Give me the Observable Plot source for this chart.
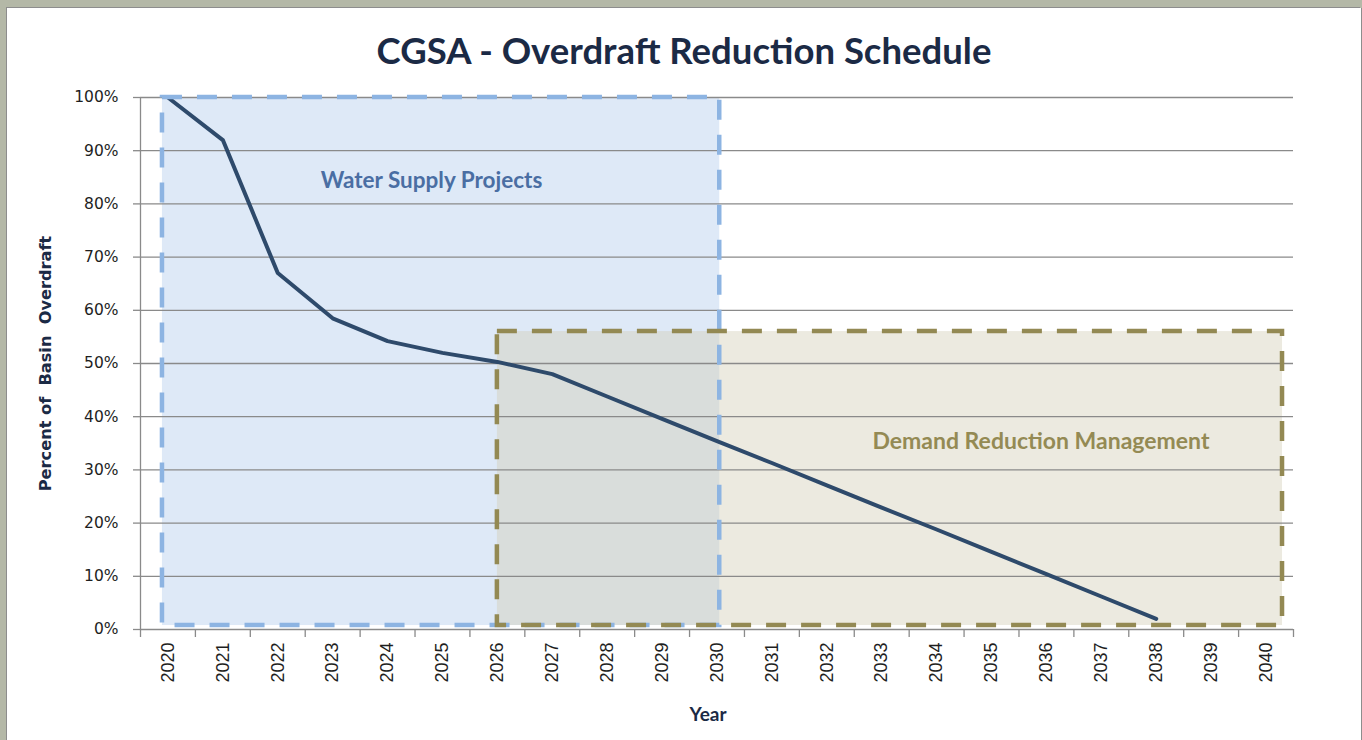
<!DOCTYPE html>
<html>
<head>
<meta charset="utf-8">
<script src="https://cdn.jsdelivr.net/npm/d3@7"></script>
<script src="https://cdn.jsdelivr.net/npm/@observablehq/plot@0.6"></script>
<style>
  html, body { margin: 0; padding: 0; width: 1362px; height: 740px; overflow: hidden; background: #b4b8a7; }
  #panel { position: absolute; left: 7px; top: 8px; width: 1354px; height: 740px; background: #ffffff;
           box-shadow: -1px -1px 0 #8d8d8d, 1px 0 0 #8d8d8d; }
  #title { position: absolute; left: 7px; top: 28px; width: 1354px; text-align: center;
           font-family: Lato, "Open Sans", sans-serif; font-weight: 700; font-size: 36.5px; line-height: 44px; color: #1b2a45; }
  #chart { position: absolute; left: 7px; top: 68px; }
  #chart svg { overflow: visible; }
  #chart g[aria-label="y-axis tick label"] text { font-family: "DejaVu Sans", sans-serif; font-size: 15.5px; fill: #1e1e1e; }
  #chart g[aria-label="x-axis tick label"] text { font-family: "Liberation Sans", Arial, sans-serif; font-size: 18px; fill: #1e1e1e; }
</style>
</head>
<body>
<div id="panel"></div>
<div id="title">CGSA - Overdraft Reduction Schedule</div>
<div id="chart"></div>
<script>
// ---- data ----
const years      = [2020, 2021, 2022, 2023, 2024, 2025, 2026, 2027, 2028, 2029, 2030, 2031, 2032, 2033, 2034, 2035, 2036, 2037, 2038];
const overdraft  = [100,  92,   67,   58.5, 54.2, 52,   50.3, 48,   43.8, 39.6, 35.4, 31.3, 27.1, 22.9, 18.8, 14.6, 10.4, 6.2,  2];
const yearTicks  = [2020, 2021, 2022, 2023, 2024, 2025, 2026, 2027, 2028, 2029, 2030, 2031, 2032, 2033, 2034, 2035, 2036, 2037, 2038, 2039, 2040];
const pctTicks   = [0, 10, 20, 30, 40, 50, 60, 70, 80, 90, 100];

// shaded program periods (years / percent)
const zoneNames  = ["Water Supply Projects", "Demand Reduction Management"];
const zoneStart  = [2019.9, 2026];
const zoneEnd    = [2030.05, 2040.3];
const zoneTop    = [100, 56];
const zoneBottom = [0.75, 0.75];
const zoneLabelX = [2024.8, 2035.9];
const zoneLabelY = [84.4, 35.3];

// ---- styles ----
const zoneFill    = ["#8db4e2", "#d2cdb4"];
const zoneOpacity = [0.29, 0.42];
const zoneStroke  = ["#8db4e2", "#938953"];
const zoneText    = ["#4a6ea3", "#948a54"];
const zoneFont    = [22.5, 23];
const gridColor   = "#8a8a8a";
const lineColor   = "#2e4a6b";
const labelColor  = "#1b2a45";

const series = years.map((y, i) => ({year: y, value: overdraft[i]}));
const zones = zoneNames.map((n, i) => ({name: n, x1: zoneStart[i], x2: zoneEnd[i], y1: zoneBottom[i], y2: zoneTop[i],
  fill: zoneFill[i], op: zoneOpacity[i], stroke: zoneStroke[i], lx: zoneLabelX[i], ly: zoneLabelY[i], tc: zoneText[i], fs: zoneFont[i]}));
const boundaries = yearTicks.map(t => t - 0.5).concat([yearTicks[yearTicks.length - 1] + 0.5]);

const plot = Plot.plot({
  width: 1354,
  height: 672,
  marginLeft: 133,
  marginRight: 68,
  marginTop: 29,
  marginBottom: 111,
  style: {background: "transparent", fontFamily: "Lato, sans-serif"},
  x: {domain: [boundaries[0], boundaries[boundaries.length - 1]]},
  y: {domain: [0, 100]},
  marks: [
    ...zones.map(z => Plot.rect([z], {x1: "x1", x2: "x2", y1: "y1", y2: "y2", fill: z.fill, fillOpacity: z.op})),
    Plot.ruleY(pctTicks, {stroke: gridColor, strokeWidth: 1.3}),
    Plot.ruleX([boundaries[0]], {stroke: gridColor, strokeWidth: 1.3}),
    Plot.axisY(pctTicks, {tickFormat: d => d + "%", tickSize: 7, tickPadding: 15, stroke: gridColor, strokeWidth: 1.3, label: null}),
    Plot.axisX(boundaries, {tickFormat: () => "", tickSize: 8, stroke: gridColor, strokeWidth: 1.3, label: null}),
    Plot.axisX(yearTicks, {tickRotate: -90, tickSize: 0, tickPadding: 13, tickFormat: d => String(d), label: null}),
    Plot.line(series, {x: "year", y: "value", stroke: lineColor, strokeWidth: 4, strokeLinejoin: "round"}),
    ...zones.map(z => Plot.rect([z], {x1: "x1", x2: "x2", y1: "y1", y2: "y2", fill: "none", stroke: z.stroke, strokeWidth: 4.5, strokeDasharray: "20,15"})),
    ...zones.map(z => Plot.text([z], {x: "lx", y: "ly", text: "name", fill: z.tc, fontSize: z.fs, fontWeight: 700, fontFamily: "Lato, sans-serif"})),
    Plot.text(["Percent of  Basin  Overdraft"], {frameAnchor: "left", textAnchor: "middle", rotate: -90, dx: -95, fill: labelColor, fontSize: 16.2, fontWeight: 700, fontFamily: "DejaVu Sans, sans-serif"}),
    Plot.text(["Year"], {frameAnchor: "bottom", dx: -9, dy: 91, fill: labelColor, fontSize: 19, fontWeight: 700, fontFamily: "Lato, sans-serif"})
  ]
});
document.getElementById("chart").appendChild(plot);
</script>
</body>
</html>
